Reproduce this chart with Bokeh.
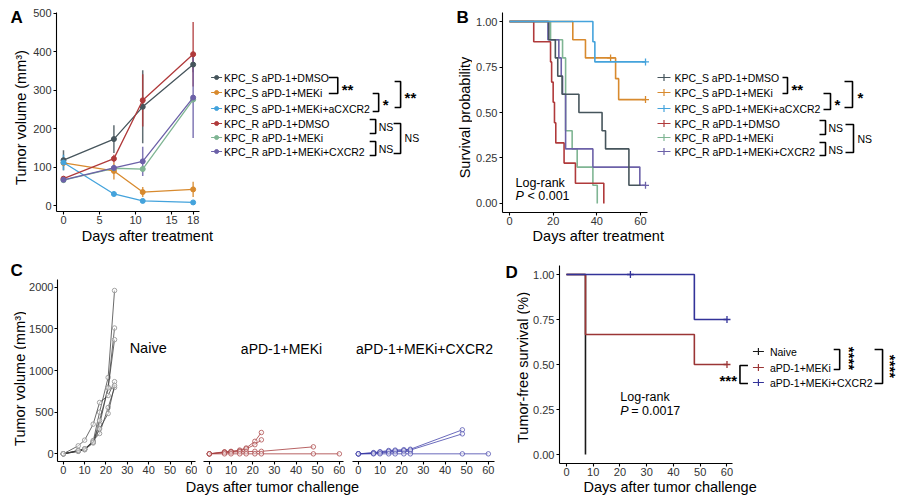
import math
from bokeh.plotting import figure
from bokeh.models import Range1d, FixedTicker, PrintfTickFormatter
from bokeh.layouts import column, row
from bokeh.core.properties import value
from bokeh.embed import file_html
from bokeh.resources import INLINE

FONT = "Liberation Sans"

# ---------------- Panel A: tumor volume (mean +/- error) ----------------
a_groups = ["KPC_S aPD-1+DMSO", "KPC_S aPD-1+MEKi", "KPC_S aPD-1+MEKi+aCXCR2",
            "KPC_R aPD-1+DMSO", "KPC_R aPD-1+MEKi", "KPC_R aPD-1+MEKi+CXCR2"]
a_days = [0, 7, 11, 18]
a_s_dmso = [118, 173, 257, 367]
a_s_meki = [111, 90, 35, 42]
a_s_cxcr2 = [112, 30, 12, 8]
a_r_dmso = [70, 122, 274, 394]
a_r_meki = [66, 97, 95, 276]
a_r_cxcr2 = [67, 98, 115, 281]
a_s_dmso_err = [26, 36, 95, 20]
a_s_meki_err = [5, 22, 13, 20]
a_s_cxcr2_err = [20, 6, 4, 3]
a_r_dmso_err = [5, 10, 68, 84]
a_r_meki_err = [6, 5, 8, 8]
a_r_cxcr2_err = [5, 8, 38, 105]
a_ticks_x = [0, 5, 10, 15, 18]
a_ticks_y = [0, 100, 200, 300, 400, 500]

# ---------------- Panel B: Kaplan-Meier survival ----------------
b_s_dmso_t = [0, 18, 21, 22.1, 24.1, 31.8, 42.4, 44, 54.7, 60]
b_s_dmso_s = [1, 0.9, 0.8, 0.7, 0.6, 0.5, 0.4, 0.3, 0.1, 0.1]
b_s_meki_t = [0, 29, 34.8, 48.6, 50, 62.3]
b_s_meki_s = [1, 0.9, 0.8, 0.686, 0.571, 0.571]
b_s_meki_cens_t = [46.3, 62.3]
b_s_meki_cens_s = [0.8, 0.571]
b_s_cxcr2_t = [0, 38.2, 39.1, 62.3]
b_s_cxcr2_s = [1, 0.889, 0.778, 0.778]
b_s_cxcr2_cens_t = [62.3]
b_s_cxcr2_cens_s = [0.778]
b_r_dmso_t = [0, 11.1, 18.8, 19.3, 20, 20.6, 21.2, 25, 30.2, 43.2]
b_r_dmso_s = [1, 0.889, 0.778, 0.667, 0.556, 0.444, 0.333, 0.222, 0.111, 0]
b_r_meki_t = [0, 18.8, 24.3, 25.7, 28.7, 31, 38.2, 40.2]
b_r_meki_s = [1, 0.9, 0.8, 0.4, 0.3, 0.2, 0.1, 0]
b_r_cxcr2_t = [0, 17.6, 22.6, 23.7, 24.3, 25.7, 38.2, 59.7, 62.3]
b_r_cxcr2_s = [1, 0.9, 0.8, 0.7, 0.6, 0.3, 0.2, 0.1, 0.1]
b_r_cxcr2_cens_t = [62.3]
b_r_cxcr2_cens_s = [0.1]
b_ticks_x = [0, 20, 40, 60]
b_ticks_y = [0, 0.25, 0.5, 0.75, 1.0]

# ---------------- Panel C: individual tumor growth ----------------
c_days_24 = [0, 7, 10, 14, 17, 21, 24]
c_days_48 = [0, 7, 10, 14, 17, 21, 24, 48]
c_days_60 = [0, 7, 10, 14, 17, 21, 24, 48, 60]
c_naive_1 = [0, 40, 60, 150, 500, 916, 1960]
c_naive_2 = [0, 35, 55, 140, 350, 800, 1510]
c_naive_3 = [0, 30, 50, 130, 400, 790, 1370]
c_naive_4 = [0, 96, 164, 356, 616, 700, 866]
c_naive_5 = [0, 30, 50, 160, 244, 556, 796]
c_naive_6 = [0, 40, 60, 140, 300, 484, 820]
c_meki_1 = [0, 25, 30, 45, 70, 150, 256]
c_meki_2 = [0, 20, 25, 35, 60, 110, 168]
c_meki_3 = [0, 15, 20, 25, 25, 30, 30, 84]
c_meki_4 = [0, 0, 0, 0, 0, 0, 0, 0, 0]
c_cx_1 = [0, 15, 25, 40, 45, 50, 55, 288]
c_cx_2 = [0, 10, 20, 30, 35, 40, 45, 240]
c_cx_3 = [0, 0, 0, 0, 0, 0, 0, 0, 0]
c_cx_4 = [0, 5, 10, 20, 25, 30, 30]
c_ticks_x = [0, 10, 20, 30, 40, 50, 60]
c_ticks_y = [0, 500, 1000, 1500, 2000]
c_titles = ["Naive", "aPD-1+MEKi", "aPD-1+MEKi+CXCR2"]

# ---------------- Panel D: tumor-free survival ----------------
d_groups = ["Naive", "aPD-1+MEKi", "aPD-1+MEKi+CXCR2"]
d_naive_t = [0, 7.1]
d_naive_s = [1, 0]
d_meki_t = [0, 7.1, 47.8, 60]
d_meki_s = [1, 0.667, 0.5, 0.5]
d_meki_cens_t = [60]
d_meki_cens_s = [0.5]
d_cx_t = [0, 47.8, 60]
d_cx_s = [1, 0.75, 0.75]
d_cx_cens_t = [23.9, 60]
d_cx_cens_s = [1, 0.75]
d_ticks_x = [0, 10, 20, 30, 40, 50, 60]
d_ticks_y = [0, 0.25, 0.5, 0.75, 1.0]

# ---------------- styles ----------------
SC = ["#46555C", "#D88A2E", "#44A3DC", "#B03A3B", "#7FB593", "#6C61A8"]
C_NAIVE, C_MEKI, C_CX = "#3A3A3A", "#A63C3D", "#3A3AA5"
D_COLORS = ["#1A1A1A", "#9B3535", "#333399"]


def _clean(p):
    for g in p.grid:
        g.visible = False
    p.outline_line_color = None


def base_fig(width, height, left, right, top, bottom, xr, yr, page_x0, page_y0, y_axis=True):
    kw = {}
    if not y_axis:
        kw["y_axis_location"] = None
    p = figure(width=width, height=height, x_range=Range1d(*xr), y_range=Range1d(*yr),
               output_backend="svg", toolbar_location=None,
               min_border_left=left, min_border_right=right,
               min_border_top=top, min_border_bottom=bottom, **kw)
    _clean(p)
    fl = page_x0 + left
    fr = page_x0 + width - right
    ft = page_y0 + top
    fb = page_y0 + height - bottom
    p.extra_x_ranges = {"px": Range1d(fl, fr)}
    p.extra_y_ranges = {"px": Range1d(fb, ft)}
    return p


def strip_fig(x0, y0, w, h):
    s = figure(width=w, height=h, x_range=Range1d(x0, x0 + w), y_range=Range1d(y0 + h, y0),
               output_backend="svg", toolbar_location=None, min_border=0,
               x_axis_location=None, y_axis_location=None)
    _clean(s)
    s.extra_x_ranges = {"px": Range1d(x0, x0 + w)}
    s.extra_y_ranges = {"px": Range1d(y0 + h, y0)}
    return s


def style_axis(ax, ticks, fmt=None, bounds=None, standoff=2):
    ax.ticker = FixedTicker(ticks=ticks)
    if fmt:
        ax.formatter = PrintfTickFormatter(format=fmt)
    if bounds:
        ax.bounds = bounds
    ax.axis_line_color = "black"
    ax.axis_line_width = 1.1
    ax.major_tick_line_color = "black"
    ax.major_tick_line_width = 1.1
    ax.major_tick_out = 3
    ax.major_tick_in = 0
    ax.minor_tick_line_color = None
    ax.major_label_text_font = FONT
    ax.major_label_text_font_size = "11px"
    ax.major_label_text_color = "#333333"
    ax.major_label_standoff = standoff


def ptext(p, xs, ys, texts, size="10.5px", align="left", baseline="middle", angle=0.0,
          style="normal", color="black"):
    p.text(x=xs, y=ys, text=texts, x_range_name="px", y_range_name="px",
           text_font=value(FONT), text_font_size=size, text_align=align,
           text_baseline=baseline, angle=angle, text_font_style=style, text_color=color)


def brackets(p, segs, width=1.6):
    xs, ys = [], []
    for (xt, xb, y0, y1) in segs:
        xs.append([xt, xb, xb, xt])
        ys.append([y0, y0, y1, y1])
    p.multi_line(xs=xs, ys=ys, x_range_name="px", y_range_name="px",
                 line_color="black", line_width=width)


def stars(p, xs, ys, texts, size="15px", angle=0.0, align="left"):
    ptext(p, xs, ys, texts, size=size, align=align, baseline="middle", angle=angle, style="bold")


TITLE_SIZE = "14.5px"
LETTER_SIZE = "17px"

# ================= Panel A =================
pA = base_fig(410, 229, 25, 0, 12, 18, (-0.97, 52.34), (-15.6, 502.6), 30, 0)
style_axis(pA.xaxis[0], a_ticks_x, bounds=(-0.97, 18.83), standoff=1)
style_axis(pA.yaxis[0], a_ticks_y)
a_means = [a_s_dmso, a_s_meki, a_s_cxcr2, a_r_dmso, a_r_meki, a_r_cxcr2]
a_errs = [a_s_dmso_err, a_s_meki_err, a_s_cxcr2_err, a_r_dmso_err, a_r_meki_err, a_r_cxcr2_err]
for i in range(6):
    c = SC[i]
    lo = [m - e for m, e in zip(a_means[i], a_errs[i])]
    hi = [m + e for m, e in zip(a_means[i], a_errs[i])]
    pA.segment(x0=a_days, x1=a_days, y0=lo, y1=hi, line_color=c, line_width=1.5, line_alpha=0.85)
for i in range(6):
    c = SC[i]
    pA.line(a_days, a_means[i], line_color=c, line_width=1.3)
    pA.scatter(a_days, a_means[i], size=5, color=c)

rows_y = [77, 92, 108, 123, 137, 151]
for i, y in enumerate(rows_y):
    pA.segment(x0=[210], x1=[221], y0=[y], y1=[y], x_range_name="px", y_range_name="px",
               line_color=SC[i], line_width=1.2)
    pA.scatter([215.5], [y], size=4, color=SC[i], x_range_name="px", y_range_name="px")
ptext(pA, [223] * 6, rows_y, a_groups)
brackets(pA, [(328, 337, 77, 93), (372, 378, 93, 111), (394, 400, 81, 107),
              (369, 375, 119, 133), (369, 375, 141, 155), (393, 400, 123, 153)])
stars(pA, [341, 382, 404], [89, 104, 97], ["**", "*", "**"])
ptext(pA, [378, 378, 404], [126, 148, 137], ["NS", "NS", "NS"])

sAL = strip_fig(0, 0, 30, 250)
ptext(sAL, [10], [17], ["A"], size=LETTER_SIZE, style="bold")
ptext(sAL, [20], [117], ["Tumor volume (mm³)"], size=TITLE_SIZE, align="center", angle=math.pi / 2)
sAB = strip_fig(30, 229, 410, 21)
ptext(sAB, [127], [235], ["Days after treatment"], size=TITLE_SIZE, align="center")

# ================= Panel B =================
pB = base_fig(428, 229, 30, 0, 12, 17, (-3.206, 179.1), (-0.0495, 1.0495), 472, 0)
style_axis(pB.xaxis[0], b_ticks_x, bounds=(-3.2, 63.2), standoff=1)
style_axis(pB.yaxis[0], b_ticks_y, fmt="%.2f")
b_curves = [(b_s_dmso_t, b_s_dmso_s), (b_s_meki_t, b_s_meki_s), (b_s_cxcr2_t, b_s_cxcr2_s),
            (b_r_dmso_t, b_r_dmso_s), (b_r_meki_t, b_r_meki_s), (b_r_cxcr2_t, b_r_cxcr2_s)]
b_cens = [None, (b_s_meki_cens_t, b_s_meki_cens_s), (b_s_cxcr2_cens_t, b_s_cxcr2_cens_s),
          None, None, (b_r_cxcr2_cens_t, b_r_cxcr2_cens_s)]
for i in [4, 3, 5, 0, 1, 2]:
    t, s = b_curves[i]
    pB.step(t, s, mode="after", line_color=SC[i], line_width=1.6)
    if b_cens[i]:
        pB.scatter(b_cens[i][0], b_cens[i][1], marker="cross", size=7, line_color=SC[i],
                   line_width=1.3)
for i, y in enumerate(rows_y):
    pB.segment(x0=[657], x1=[670], y0=[y], y1=[y], x_range_name="px", y_range_name="px",
               line_color=SC[i], line_width=1.2)
    pB.scatter([663.5], [y], marker="cross", size=7, line_color=SC[i], line_width=1.2,
               x_range_name="px", y_range_name="px")
ptext(pB, [674] * 6, rows_y, a_groups)
brackets(pB, [(782, 787, 77, 93), (823, 830, 93, 109), (844, 852, 81, 107),
              (819, 825, 120, 134), (819, 825, 142, 155), (845, 853, 124, 152)])
stars(pB, [791, 834, 857], [89, 104, 97], ["**", "*", "*"])
ptext(pB, [828, 828, 857], [127, 149, 138], ["NS", "NS", "NS"])
ptext(pB, [515], [182], ["Log-rank"], size="12.5px")
ptext(pB, [515], [195], ["P"], size="12.5px", style="italic")
ptext(pB, [527], [195], ["< 0.001"], size="12.5px")

sBL = strip_fig(440, 0, 32, 250)
ptext(sBL, [456], [17], ["B"], size=LETTER_SIZE, style="bold")
ptext(sBL, [464], [117], ["Survival probability"], size=TITLE_SIZE, align="center", angle=math.pi / 2)
sBB = strip_fig(472, 229, 428, 21)
ptext(sBB, [575], [235], ["Days after treatment"], size=TITLE_SIZE, align="center")

# ================= Panel C =================
CY = (-92, 2092)
CX = (-2.7, 61.9)
pC1 = base_fig(171, 230, 29, 2, 29, 19, CX, CY, 26, 250)
pC2 = base_fig(148, 230, 6, 2, 29, 19, CX, CY, 197, 250, y_axis=False)
pC3 = base_fig(151, 230, 7, 2, 29, 19, (-2.7, 62.84), CY, 345, 250, y_axis=False)
for pc in (pC1, pC2, pC3):
    style_axis(pc.xaxis[0], c_ticks_x, standoff=1)
style_axis(pC1.yaxis[0], c_ticks_y, standoff=1)

for vals in [c_naive_1, c_naive_2, c_naive_3, c_naive_4, c_naive_5, c_naive_6]:
    pC1.line(c_days_24, vals, line_color=C_NAIVE, line_width=1.0, line_alpha=0.75)
    pC1.scatter(c_days_24, vals, size=4.5, marker="circle", fill_color="white", fill_alpha=0.5,
                line_color="#999999", line_width=0.9)
for days, vals in [(c_days_24, c_meki_1), (c_days_24, c_meki_2), (c_days_48, c_meki_3),
                   (c_days_60, c_meki_4)]:
    pC2.line(days, vals, line_color=C_MEKI, line_width=1.0, line_alpha=0.8)
    pC2.scatter(days, vals, size=4.5, marker="circle", fill_color="white", fill_alpha=0.5,
                line_color=C_MEKI, line_width=0.9, line_alpha=0.8)
for days, vals in [(c_days_24, c_cx_4), (c_days_48, c_cx_1), (c_days_48, c_cx_2),
                   (c_days_60, c_cx_3)]:
    pC3.line(days, vals, line_color=C_CX, line_width=1.0, line_alpha=0.75)
    pC3.scatter(days, vals, size=4.5, marker="circle", fill_color="white", fill_alpha=0.5,
                line_color=C_CX, line_width=0.9, line_alpha=0.75)

ptext(pC1, [147], [347], [c_titles[0]], size="14.5px", align="center")
ptext(pC2, [281], [348], [c_titles[1]], size="14px", align="center")
ptext(pC3, [424], [348], [c_titles[2]], size="14px", align="center")

sCL = strip_fig(0, 250, 26, 250)
ptext(sCL, [10], [270], ["C"], size=LETTER_SIZE, style="bold")
ptext(sCL, [19], [378], ["Tumor volume (mm³)"], size=TITLE_SIZE, align="center", angle=math.pi / 2)
sCB = strip_fig(26, 480, 470, 20)
ptext(sCB, [272], [486], ["Days after tumor challenge"], size=TITLE_SIZE, align="center")

# ================= Panel D =================
pD = base_fig(370, 230, 28, 0, 15, 17, (-2.61, 124.86), (-0.05, 1.05), 530, 250)
style_axis(pD.xaxis[0], d_ticks_x, bounds=(-2.61, 62.2), standoff=1)
style_axis(pD.yaxis[0], d_ticks_y, fmt="%.2f")
pD.step(d_naive_t, d_naive_s, mode="after", line_color=D_COLORS[0], line_width=1.6)
pD.step(d_meki_t, d_meki_s, mode="after", line_color=D_COLORS[1], line_width=1.6)
pD.step(d_cx_t, d_cx_s, mode="after", line_color=D_COLORS[2], line_width=1.6)
pD.scatter(d_meki_cens_t, d_meki_cens_s, marker="cross", size=7, line_color=D_COLORS[1], line_width=1.3)
pD.scatter(d_cx_cens_t, d_cx_cens_s, marker="cross", size=7, line_color=D_COLORS[2], line_width=1.3)

d_rows = [351, 367, 382]
for i, y in enumerate(d_rows):
    pD.segment(x0=[752], x1=[763], y0=[y], y1=[y], x_range_name="px", y_range_name="px",
               line_color=D_COLORS[i], line_width=1.2)
    pD.scatter([757.5], [y], marker="cross", size=7, line_color=D_COLORS[i], line_width=1.2,
               x_range_name="px", y_range_name="px")
ptext(pD, [769] * 3, d_rows, d_groups)
brackets(pD, [(833, 839, 349, 369), (874, 882, 349, 383), (747, 739, 365, 383)])
stars(pD, [849, 890], [358, 366], ["****", "****"], angle=-math.pi / 2, align="center")
stars(pD, [736], [380], ["***"], align="right")
ptext(pD, [619], [396], ["Log-rank"], size="12.5px")
ptext(pD, [619], [410], ["P"], size="12.5px", style="italic")
ptext(pD, [630], [410], ["= 0.0017"], size="12.5px")

sDL = strip_fig(496, 250, 34, 250)
ptext(sDL, [505], [272], ["D"], size=LETTER_SIZE, style="bold")
ptext(sDL, [522], [367], ["Tumor-free survival (%)"], size=TITLE_SIZE, align="center", angle=math.pi / 2)
sDB = strip_fig(530, 480, 370, 20)
ptext(sDB, [650], [486], ["Days after tumor challenge"], size=TITLE_SIZE, align="center")

layout = column(
    row(sAL, column(pA, sAB), sBL, column(pB, sBB)),
    row(sCL, column(row(pC1, pC2, pC3), sCB), sDL, column(pD, sDB)),
)

open("out.html", "w").write(file_html(layout, INLINE))
